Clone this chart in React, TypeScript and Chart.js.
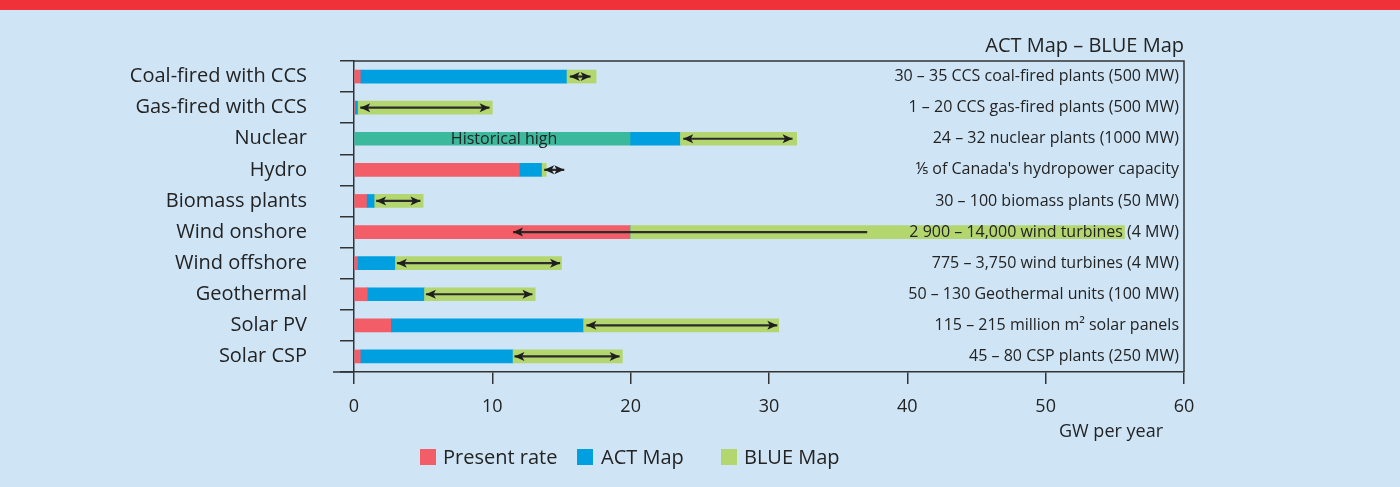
import React, { useEffect, useRef } from "react";
import { Chart, registerables } from "chart.js";

Chart.register(...registerables);

const FONT = "'Open Sans', 'Noto Sans', sans-serif";

const categories = [
  "Coal-fired with CCS",
  "Gas-fired with CCS",
  "Nuclear",
  "Hydro",
  "Biomass plants",
  "Wind onshore",
  "Wind offshore",
  "Geothermal",
  "Solar PV",
  "Solar CSP",
];

// cumulative totals, GW per year
const presentRate = [0.5, 0.12, 20, 12, 0.95, 20, 0.3, 1.0, 2.7, 0.5];
const actMap = [15.4, 0.3, 23.6, 13.6, 1.5, 20, 3.0, 5.1, 16.6, 11.5];
const blueMap = [17.5, 10.0, 32.0, 13.9, 5.0, 55.7, 15.0, 13.1, 30.7, 19.4];

const historicalHighIndex = 2;
const historicalHighLabel = "Historical high";

// range arrows (ACT Map -> BLUE Map)
const arrowFrom = [15.6, 0.45, 23.8, 13.75, 1.6, 37.1, 3.1, 5.2, 16.8, 11.6];
const arrowTo = [17.1, 9.8, 31.7, 15.2, 4.8, 11.5, 14.9, 12.9, 30.6, 19.2];
const arrowBothHeads = [true, true, true, true, true, false, true, true, true, true];

const annotations = [
  "30 – 35 CCS coal-fired plants (500 MW)",
  "1 – 20 CCS gas-fired plants (500 MW)",
  "24 – 32 nuclear plants (1000 MW)",
  "⅕ of Canada's hydropower capacity",
  "30 – 100 biomass plants (50 MW)",
  "2 900 – 14,000 wind turbines (4 MW)",
  "775 – 3,750 wind turbines (4 MW)",
  "50 – 130 Geothermal units (100 MW)",
  "115 – 215 million m² solar panels",
  "45 – 80 CSP plants (250 MW)",
];

const seriesNames = ["Present rate", "ACT Map", "BLUE Map"];
const xTicks = [0, 10, 20, 30, 40, 50, 60];
const titleText = "ACT Map – BLUE Map";
const unitText = "GW per year";

const RED = "#f25d68";
const BLUE = "#00a0e0";
const GREEN = "#b4d66f";
const TEAL = "#3bb99c";
const INK = "#232323";

function drawArrowHead(ctx: CanvasRenderingContext2D, x: number, y: number, dir: number) {
  const len = 10;
  const hw = 4.5;
  ctx.beginPath();
  ctx.moveTo(x, y);
  ctx.lineTo(x - dir * len, y - hw);
  ctx.lineTo(x - dir * len * 0.75, y);
  ctx.lineTo(x - dir * len, y + hw);
  ctx.closePath();
  ctx.fill();
}

const overlayPlugin = {
  id: "overlay",
  afterDatasetsDraw(chart: any) {
    const ctx: CanvasRenderingContext2D = chart.ctx;
    const xs = chart.scales.x;
    const ys = chart.scales.y;
    const area = chart.chartArea;
    ctx.save();

    // plot frame (top + right)
    ctx.strokeStyle = "#333";
    ctx.lineWidth = 1.5;
    ctx.beginPath();
    ctx.moveTo(area.left, area.top);
    ctx.lineTo(area.right, area.top);
    ctx.lineTo(area.right, area.bottom);
    ctx.stroke();
    // x-axis extends left
    ctx.beginPath();
    ctx.moveTo(333, area.bottom);
    ctx.lineTo(area.left, area.bottom);
    ctx.stroke();

    // historical high label
    ctx.fillStyle = INK;
    ctx.font = `16px ${FONT}`;
    ctx.textAlign = "center";
    ctx.textBaseline = "middle";
    ctx.fillText(historicalHighLabel, xs.getPixelForValue(10.85), ys.getPixelForValue(historicalHighIndex) + 1);

    // arrows
    ctx.strokeStyle = "#2b2b2b";
    ctx.fillStyle = "#1e1e1e";
    ctx.lineWidth = 2.2;
    categories.forEach((_, i) => {
      const y = ys.getPixelForValue(i);
      const x1 = xs.getPixelForValue(arrowFrom[i]);
      const x2 = xs.getPixelForValue(arrowTo[i]);
      const dir = x2 > x1 ? 1 : -1;
      ctx.beginPath();
      ctx.moveTo(x1, y);
      ctx.lineTo(x2, y);
      ctx.stroke();
      drawArrowHead(ctx, x2, y, dir);
      if (arrowBothHeads[i]) drawArrowHead(ctx, x1, y, -dir);
    });

    // annotations
    ctx.fillStyle = INK;
    ctx.font = `16px ${FONT}`;
    ctx.textAlign = "right";
    ctx.textBaseline = "middle";
    annotations.forEach((t, i) => {
      ctx.fillText(t, area.right - 5, ys.getPixelForValue(i));
    });

    // title
    ctx.font = `20px ${FONT}`;
    ctx.fillText(titleText, area.right, 46);

    // unit
    ctx.font = `18px ${FONT}`;
    ctx.fillText(unitText, 1163, 432);

    // legend
    const colors = [RED, BLUE, GREEN];
    const boxX = [420, 577, 721];
    const textX = [443, 601, 744];
    ctx.font = `20px ${FONT}`;
    ctx.textAlign = "left";
    seriesNames.forEach((n, k) => {
      ctx.fillStyle = colors[k];
      ctx.fillRect(boxX[k], 449, 16, 16);
      ctx.fillStyle = INK;
      ctx.fillText(n, textX[k], 458);
    });

    ctx.restore();
  },
};

export default function App() {
  const ref = useRef<HTMLCanvasElement>(null);

  useEffect(() => {
    if (!ref.current) return;
    const presentColors = categories.map((_, i) => (i === historicalHighIndex ? TEAL : RED));
    const chart = new Chart(ref.current, {
      type: "bar",
      data: {
        labels: categories,
        datasets: [
          {
            label: seriesNames[0],
            data: presentRate.map((v) => [0, v]) as any,
            backgroundColor: presentColors,
            grouped: false,
            barThickness: 13,
            order: 3,
          },
          {
            label: seriesNames[1],
            data: actMap.map((v, i) => [presentRate[i], v]) as any,
            backgroundColor: BLUE,
            grouped: false,
            barThickness: 13,
            order: 2,
          },
          {
            label: seriesNames[2],
            data: blueMap.map((v, i) => [actMap[i], v]) as any,
            backgroundColor: GREEN,
            grouped: false,
            barThickness: 13,
            order: 1,
          },
        ],
      },
      options: {
        indexAxis: "y",
        responsive: false,
        animation: false,
        layout: { padding: { top: 61, right: 216, left: 0, bottom: 0 } },
        plugins: {
          legend: { display: false },
          tooltip: { enabled: false },
        },
        scales: {
          x: {
            type: "linear",
            min: 0,
            max: 60,
            afterBuildTicks: (scale: any) => {
              scale.ticks = xTicks.map((v) => ({ value: v }));
            },
            afterFit: (scale: any) => {
              scale.height = 115;
            },
            ticks: {
              color: INK,
              font: { size: 18, family: FONT },
              padding: 12,
              maxRotation: 0,
            },
            grid: {
              drawOnChartArea: false,
              tickLength: 12,
              color: "#333",
              lineWidth: 1.5,
            },
            border: { display: true, color: "#333", width: 1.5 },
          },
          y: {
            type: "category",
            offset: true,
            afterFit: (scale: any) => {
              scale.width = 354;
            },
            ticks: {
              color: INK,
              font: { size: 20, family: FONT },
              padding: 33,
            },
            grid: {
              offset: true,
              drawOnChartArea: false,
              tickLength: 14,
              color: "#333",
              lineWidth: 1.5,
            },
            border: { display: true, color: "#333", width: 1.5 },
          },
        },
      },
      plugins: [overlayPlugin],
    });
    return () => chart.destroy();
  }, []);

  return (
    <div
      style={{
        position: "fixed",
        left: 0,
        top: 0,
        width: 1400,
        height: 487,
        background: "#cfe5f6",
        overflow: "hidden",
      }}
    >
      <div style={{ position: "absolute", left: 0, top: 0, width: 1400, height: 10, background: "#f0313a" }} />
      <canvas ref={ref} width={1400} height={487} style={{ position: "absolute", left: 0, top: 0 }} />
    </div>
  );
}
